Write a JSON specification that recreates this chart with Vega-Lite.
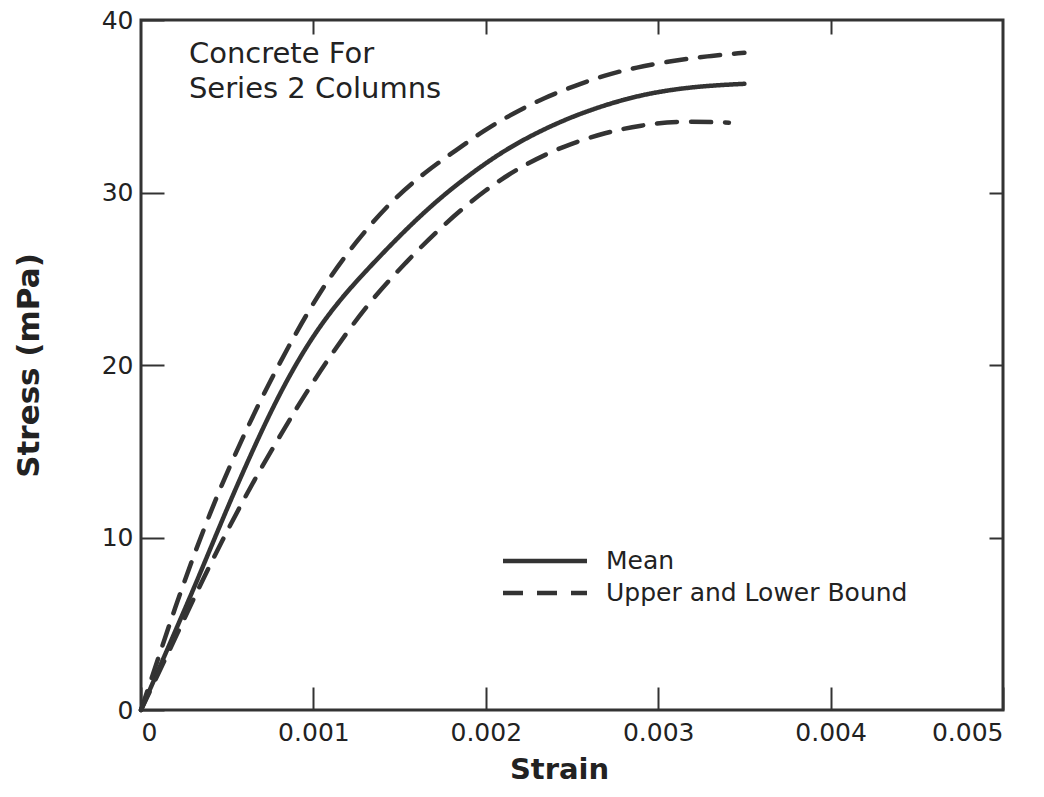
{
  "$schema": "https://vega.github.io/schema/vega-lite/v6.json",
  "width": 862,
  "height": 690,
  "padding": {"left": 13, "top": 8, "right": 10, "bottom": 5},
  "background": "white",
  "config": {
    "view": {"stroke": "#333333", "strokeWidth": 3},
    "font": "DejaVu Sans"
  },
  "datasets": {
    "curves": [
      {"series": "Mean", "type": "Mean", "strain": 0, "stress": 0},
      {"series": "Mean", "type": "Mean", "strain": 0.0001, "stress": 2.3},
      {"series": "Mean", "type": "Mean", "strain": 0.0002, "stress": 4.6},
      {"series": "Mean", "type": "Mean", "strain": 0.0003, "stress": 6.9},
      {"series": "Mean", "type": "Mean", "strain": 0.0004, "stress": 9.3},
      {"series": "Mean", "type": "Mean", "strain": 0.0005, "stress": 11.7},
      {"series": "Mean", "type": "Mean", "strain": 0.00064, "stress": 14.9},
      {"series": "Mean", "type": "Mean", "strain": 0.0008, "stress": 18.3},
      {"series": "Mean", "type": "Mean", "strain": 0.00097, "stress": 21.3},
      {"series": "Mean", "type": "Mean", "strain": 0.00113, "stress": 23.5},
      {"series": "Mean", "type": "Mean", "strain": 0.00128, "stress": 25.2},
      {"series": "Mean", "type": "Mean", "strain": 0.0015, "stress": 27.5},
      {"series": "Mean", "type": "Mean", "strain": 0.0017, "stress": 29.4},
      {"series": "Mean", "type": "Mean", "strain": 0.0019, "stress": 31.0},
      {"series": "Mean", "type": "Mean", "strain": 0.0021, "stress": 32.4},
      {"series": "Mean", "type": "Mean", "strain": 0.0023, "stress": 33.5},
      {"series": "Mean", "type": "Mean", "strain": 0.0025, "stress": 34.4},
      {"series": "Mean", "type": "Mean", "strain": 0.0027, "stress": 35.1},
      {"series": "Mean", "type": "Mean", "strain": 0.0029, "stress": 35.65},
      {"series": "Mean", "type": "Mean", "strain": 0.0031, "stress": 36.0},
      {"series": "Mean", "type": "Mean", "strain": 0.0033, "stress": 36.2},
      {"series": "Mean", "type": "Mean", "strain": 0.0035, "stress": 36.3},
      {"series": "Upper", "type": "Upper and Lower Bound", "strain": 0, "stress": 0},
      {"series": "Upper", "type": "Upper and Lower Bound", "strain": 0.0001, "stress": 3.0},
      {"series": "Upper", "type": "Upper and Lower Bound", "strain": 0.0002, "stress": 6.0},
      {"series": "Upper", "type": "Upper and Lower Bound", "strain": 0.0003, "stress": 8.8},
      {"series": "Upper", "type": "Upper and Lower Bound", "strain": 0.0004, "stress": 11.4},
      {"series": "Upper", "type": "Upper and Lower Bound", "strain": 0.0005, "stress": 13.8},
      {"series": "Upper", "type": "Upper and Lower Bound", "strain": 0.0006, "stress": 16.0},
      {"series": "Upper", "type": "Upper and Lower Bound", "strain": 0.0007, "stress": 18.1},
      {"series": "Upper", "type": "Upper and Lower Bound", "strain": 0.00085, "stress": 21.0},
      {"series": "Upper", "type": "Upper and Lower Bound", "strain": 0.00105, "stress": 24.5},
      {"series": "Upper", "type": "Upper and Lower Bound", "strain": 0.00125, "stress": 27.2},
      {"series": "Upper", "type": "Upper and Lower Bound", "strain": 0.00145, "stress": 29.5},
      {"series": "Upper", "type": "Upper and Lower Bound", "strain": 0.00165, "stress": 31.2},
      {"series": "Upper", "type": "Upper and Lower Bound", "strain": 0.00182, "stress": 32.4},
      {"series": "Upper", "type": "Upper and Lower Bound", "strain": 0.00199, "stress": 33.6},
      {"series": "Upper", "type": "Upper and Lower Bound", "strain": 0.00216, "stress": 34.6},
      {"series": "Upper", "type": "Upper and Lower Bound", "strain": 0.00234, "stress": 35.5},
      {"series": "Upper", "type": "Upper and Lower Bound", "strain": 0.00252, "stress": 36.2},
      {"series": "Upper", "type": "Upper and Lower Bound", "strain": 0.00269, "stress": 36.8},
      {"series": "Upper", "type": "Upper and Lower Bound", "strain": 0.00287, "stress": 37.25},
      {"series": "Upper", "type": "Upper and Lower Bound", "strain": 0.00309, "stress": 37.65},
      {"series": "Upper", "type": "Upper and Lower Bound", "strain": 0.00328, "stress": 37.9},
      {"series": "Upper", "type": "Upper and Lower Bound", "strain": 0.0035, "stress": 38.1},
      {"series": "Lower", "type": "Upper and Lower Bound", "strain": 0, "stress": 0},
      {"series": "Lower", "type": "Upper and Lower Bound", "strain": 0.0001, "stress": 2.1},
      {"series": "Lower", "type": "Upper and Lower Bound", "strain": 0.0002, "stress": 4.2},
      {"series": "Lower", "type": "Upper and Lower Bound", "strain": 0.00035, "stress": 7.4},
      {"series": "Lower", "type": "Upper and Lower Bound", "strain": 0.0005, "stress": 10.4},
      {"series": "Lower", "type": "Upper and Lower Bound", "strain": 0.00066, "stress": 13.4},
      {"series": "Lower", "type": "Upper and Lower Bound", "strain": 0.00083, "stress": 16.3},
      {"series": "Lower", "type": "Upper and Lower Bound", "strain": 0.00097, "stress": 18.6},
      {"series": "Lower", "type": "Upper and Lower Bound", "strain": 0.00113, "stress": 21.0},
      {"series": "Lower", "type": "Upper and Lower Bound", "strain": 0.00132, "stress": 23.6},
      {"series": "Lower", "type": "Upper and Lower Bound", "strain": 0.00153, "stress": 25.9},
      {"series": "Lower", "type": "Upper and Lower Bound", "strain": 0.00175, "stress": 28.1},
      {"series": "Lower", "type": "Upper and Lower Bound", "strain": 0.002, "stress": 30.2},
      {"series": "Lower", "type": "Upper and Lower Bound", "strain": 0.00222, "stress": 31.6},
      {"series": "Lower", "type": "Upper and Lower Bound", "strain": 0.00245, "stress": 32.7},
      {"series": "Lower", "type": "Upper and Lower Bound", "strain": 0.0027, "stress": 33.5},
      {"series": "Lower", "type": "Upper and Lower Bound", "strain": 0.0029, "stress": 33.9},
      {"series": "Lower", "type": "Upper and Lower Bound", "strain": 0.00311, "stress": 34.15},
      {"series": "Lower", "type": "Upper and Lower Bound", "strain": 0.00341, "stress": 34.05}
    ],
    "note": [
      {"strain": 0.000278, "stress": 38.85, "label": "Concrete For\nSeries 2 Columns"}
    ]
  },
  "layer": [
    {
      "data": {"name": "curves"},
      "mark": {"type": "line", "interpolate": "basis", "strokeWidth": 4.5, "strokeCap": "round", "color": "#333333"},
      "encoding": {
        "x": {
          "field": "strain", "type": "quantitative",
          "scale": {"domain": [0, 0.005], "nice": false, "zero": true},
          "axis": {
            "orient": "bottom", "values": [0, 0.001, 0.002, 0.003, 0.004, 0.005], "format": ".3~f",
            "grid": false, "domain": false, "tickSize": -23, "tickWidth": 2, "tickColor": "#333333",
            "labelPadding": 33, "labelFontSize": 25, "labelColor": "#222222",
            "title": "Strain", "titleFontSize": 29, "titleFontWeight": "bold", "titleColor": "#222222", "titlePadding": 10, "titleX": 418
          }
        },
        "y": {
          "field": "stress", "type": "quantitative",
          "scale": {"domain": [0, 40], "nice": false},
          "axis": {
            "orient": "left", "values": [0, 10, 20, 30, 40],
            "grid": false, "domain": false, "tickSize": -23, "tickWidth": 2, "tickColor": "#333333",
            "labelPadding": 31, "labelFontSize": 25, "labelColor": "#222222",
            "title": "Stress (mPa)", "titleFontSize": 31, "titleFontWeight": "bold", "titleColor": "#222222", "titlePadding": 56
          }
        },
        "detail": {"field": "series", "type": "nominal"},
        "strokeDash": {
          "field": "type", "type": "nominal",
          "scale": {"domain": ["Mean", "Upper and Lower Bound"], "range": [[1, 0], [20, 14]]},
          "legend": {
            "orient": "none", "legendX": 391, "legendY": 528, "title": null,
            "symbolType": "M-4,0H4", "symbolSize": 441, "symbolStrokeWidth": 4.5, "symbolStrokeColor": "#333333",
            "labelFontSize": 25, "labelColor": "#222222", "labelOffset": 48, "labelLimit": 0, "rowPadding": 6
          }
        }
      }
    },
    {
      "data": {"name": "curves"},
      "mark": {"type": "line", "opacity": 0},
      "encoding": {
        "x": {
          "field": "strain", "type": "quantitative",
          "scale": {"domain": [0, 0.005], "nice": false},
          "axis": {"orient": "top", "values": [0.001, 0.002, 0.003, 0.004], "labels": false, "grid": false, "domain": false, "tickSize": -14, "tickWidth": 2, "tickColor": "#333333", "title": null}
        },
        "y": {
          "field": "stress", "type": "quantitative",
          "scale": {"domain": [0, 40], "nice": false},
          "axis": {"orient": "right", "values": [10, 20, 30], "labels": false, "grid": false, "domain": false, "tickSize": -14, "tickWidth": 2, "tickColor": "#333333", "title": null}
        },
        "detail": {"field": "series", "type": "nominal"}
      }
    },
    {
      "data": {"name": "note"},
      "mark": {"type": "text", "align": "left", "baseline": "top", "fontSize": 29, "lineHeight": 35, "color": "#222222", "lineBreak": "\n"},
      "encoding": {
        "x": {"field": "strain", "type": "quantitative", "axis": null},
        "y": {"field": "stress", "type": "quantitative", "axis": null},
        "text": {"field": "label"}
      }
    }
  ],
  "resolve": {"axis": {"x": "independent", "y": "independent"}}
}
